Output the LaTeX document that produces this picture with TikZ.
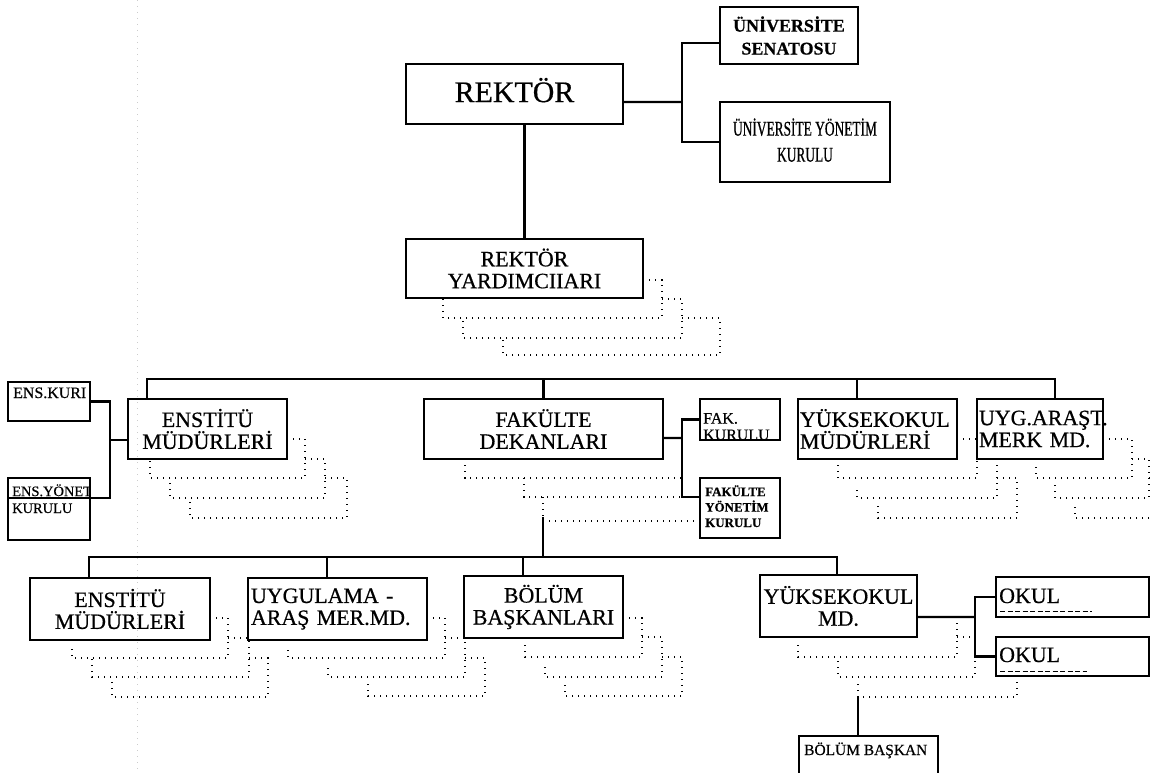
\documentclass[tikz,border=0pt]{standalone}
\usepackage{fontspec}
\setmainfont{Liberation Serif}[FakeBold=0.6]
\newfontfamily\narrowserif[FakeStretch=0.64, FakeBold=0.6]{Liberation Serif}
\newcommand\fsz[1]{\fontsize{#1}{#1}\selectfont}
\newcommand\fszl[2]{\fontsize{#1}{#2}\selectfont}
\tikzset{
  box/.style={draw, line width=2.4bp, inner sep=0pt, align=center, font=\fsz{22}},
  link/.style={line width=2.4bp},
  shade/.style={line width=1.4bp, dash pattern=on 1.4bp off 4.6bp},
  tag/.style={inner sep=0pt, anchor=base west, align=left},
}
\begin{document}
\begin{tikzpicture}[x=1bp, y=-1bp]
\useasboundingbox (0,0) rectangle (1151,773);

% faint margin guide of the page
\draw[gray!40, line width=0.8bp, dash pattern=on 1bp off 5bp] (137,0) -- (137,773);

% ---------- top level ----------
\node[box, minimum width=217bp, minimum height=60bp, font=\fsz{30}] (rektor) at (514.5,94) {\raisebox{8bp}{REKTÖR}};
\node[box, minimum width=138bp, minimum height=57bp, font=\bfseries\fszl{18}{23}] (senato) at (789,35.5) {ÜNİVERSİTE\\SENATOSU};
\node[box, minimum width=170bp, minimum height=80bp, font=\narrowserif\fszl{21}{34}] (yonetim) at (805,142) {\raisebox{4bp}{\shortstack{ÜNİVERSİTE YÖNETİM\\[9bp]KURULU}}};
\node[box, minimum width=237bp, minimum height=59bp] (yard) at (524.5,268.5) {REKTÖR\\YARDIMCIIARI};

% ---------- second level ----------
\node[box, minimum width=159bp, minimum height=60bp] (enst1) at (207.5,429) {ENSTİTÜ\\MÜDÜRLERİ};
\node[box, minimum width=239bp, minimum height=60bp] (fak) at (543.5,429) {FAKÜLTE\\DEKANLARI};
\node[box, minimum width=159bp, minimum height=60bp, align=left, text width=155bp] (yuk1) at (877.5,429) {YÜKSEKOKUL\\MÜDÜRLERİ};
\node[box, minimum width=126bp, minimum height=60bp, align=left, text width=122bp] (uyg1) at (1040,429) {UYG.ARAŞT.\\MERK MD.};

% side boards
\node[box, minimum width=82bp, minimum height=39bp] (enskur) at (49,401.5) {};
\node[box, minimum width=82bp, minimum height=62bp] (ensyon) at (49,509) {};
\node[box, minimum width=80bp, minimum height=41bp] (fakkur) at (740,419.5) {};
\node[box, minimum width=80bp, minimum height=60bp] (fakyon) at (740,508) {};
\begin{scope}
  \clip ([shift={(1.2bp,-1.2bp)}]enskur.north west) rectangle ([shift={(-1.2bp,1.2bp)}]enskur.south east);
  \node[tag, font=\fsz{16}] (enskur-t) at (13,398) {ENS.KURI};
\end{scope}
\begin{scope}
  \clip ([shift={(1.2bp,-1.2bp)}]ensyon.north west) rectangle ([shift={(-1.2bp,1.2bp)}]ensyon.south east);
  \node[tag, font=\fszl{14.5}{17}] (ensyon-t) at (12,513) {ENS.YÖNET\\KURULU};
\end{scope}
\begin{scope}
  \clip ([shift={(1.2bp,-1.2bp)}]fakkur.north west) rectangle ([shift={(-1.2bp,1.2bp)}]fakkur.south east);
  \node[tag, font=\fszl{16}{16.5}] (fakkur-t) at (703,440) {FAK.\\KURULU};
\end{scope}
\node[tag, font=\bfseries\fszl{13}{15.5}] (fakyon-t) at (705,527) {FAKÜLTE\\YÖNETİM\\KURULU};

% ---------- third level ----------
\node[box, minimum width=180bp, minimum height=62bp] (enst2) at (120,609) {ENSTİTÜ\\MÜDÜRLERİ};
\node[box, minimum width=179bp, minimum height=62bp, align=left, text width=173bp] (uygu) at (337.5,609) {UYGULAMA -\\ARAŞ MER.MD.};
\node[box, minimum width=159bp, minimum height=62bp] (bolum) at (543.5,607) {BÖLÜM\\BAŞKANLARI};
\node[box, minimum width=157bp, minimum height=62bp] (yukmd) at (838.5,606) {YÜKSEKOKUL\\MD.};
\node[box, minimum width=153bp, minimum height=40bp] (okul1) at (1072.5,597) {};
\node[box, minimum width=153bp, minimum height=39bp] (okul2) at (1072.5,656.5) {};
\node[tag, font=\fsz{22}] (okul1-t) at (999,603) {OKUL};
\node[tag, font=\fsz{22}] (okul2-t) at (999,662) {OKUL};
\draw[line width=1bp, dash pattern=on 5bp off 2.5bp] (1000,611) -- (1092,611);
\draw[line width=1bp, dash pattern=on 5bp off 2.5bp] (1000,671) -- (1087,671);

\node[box, minimum width=139bp, minimum height=54bp] (bbaskan) at (868.5,763) {};
\node[tag, font=\fsz{15.5}] (bbaskan-t) at (804,755) {BÖLÜM BAŞKAN};

% ---------- solid connectors ----------
\coordinate (rk) at (682,102);
\draw[link] ([yshift=-8bp]rektor.east) -- (rk);
\draw[link] ([yshift=-7.5bp]senato.west) -| (rk) |- (yonetim.west);
\draw[link] (rektor.south -| yard.north) -- (yard.north);

\coordinate (busL) at (147,379);
\coordinate (busR) at (1055,379);
\coordinate (busY) at (857,379);
\draw[link] (busL |- enst1.north) -- (busL) -- (busR) -- (busR |- uyg1.north);
\draw[link] (fak.north) -- (fak.north |- busL);
\draw[link] (busY) -- (busY |- yuk1.north);

\coordinate (ej) at (110,440);
\draw[link] (enskur.east) -| (ej) |- ([yshift=11bp]ensyon.west);
\draw[link] (ej) -- (ej -| enst1.west);

\coordinate (fj) at (682,438);
\draw[link] ([yshift=-9bp]fak.east) -- (fj);
\draw[link] (fakkur.west) -| (fj) |- ([yshift=11bp]fakyon.west);

\coordinate (fd) at (543,517);
\coordinate (b3L) at (89,557);
\coordinate (b3R) at (837,557);
\coordinate (b3U) at (327,557);
\coordinate (b3B) at (523,557);
\draw[link] (fd) -- (fd |- b3L);
\draw[link] (b3L |- enst2.north) -- (b3L) -- (b3R) -- (b3R |- yukmd.north);
\draw[link] (b3U) -- (b3U |- uygu.north);
\draw[link] (b3B) -- (b3B |- bolum.north);

\coordinate (yj) at (975,617);
\draw[link] ([yshift=-11bp]yukmd.east) -- (yj);
\draw[link] (okul1.west) -| (yj) |- (okul2.west);

\coordinate (bb) at (858,697);
\draw[link] (bb) -- (bb |- bbaskan.north);

% ---------- stacked copies (dotted) ----------
% rector's deputies
\draw[shade] (643,280) -- (662,280) -- (662,318) -- (443,318) -- (443,298);
\draw[shade] (662,299) -- (682,299) -- (682,338) -- (463,338) -- (463,318);
\draw[shade] (682,318) -- (720,318) -- (720,355) -- (503,355) -- (503,338);
% institute directors
\draw[shade] (287,439) -- (305,439) -- (305,478) -- (150,478) -- (150,459);
\draw[shade] (305,459) -- (325,459) -- (325,498) -- (170,498) -- (170,478);
\draw[shade] (325,478) -- (347,478) -- (347,518) -- (190,518) -- (190,498);
% deans
\draw[shade] (465,459) -- (465,478) -- (682,478);
\draw[shade] (524,478) -- (524,497) -- (682,497);
\draw[shade] (543,497) -- (543,521) -- (700,521);
% college directors
\draw[shade] (957,439) -- (977,439) -- (977,478) -- (838,478) -- (838,465);
\draw[shade] (997,459) -- (997,498) -- (857,498) -- (857,485);
\draw[shade] (997,478) -- (1017,478) -- (1017,518) -- (878,518) -- (878,505);
% research centre directors
\draw[shade] (1103,439) -- (1132,439) -- (1132,478) -- (1036,478) -- (1036,465);
\draw[shade] (1132,459) -- (1149,459) -- (1149,498) -- (1055,498) -- (1055,485);
\draw[shade] (1149,478) -- (1165,478) -- (1165,518) -- (1075,518) -- (1075,505);
% faculty level: institute directors
\draw[shade] (210,618) -- (228,618) -- (228,658) -- (72,658) -- (72,645);
\draw[shade] (228,638) -- (249,638) -- (249,677) -- (92,677) -- (92,658);
\draw[shade] (249,658) -- (268,658) -- (268,697) -- (112,697) -- (112,677);
% application and research centre
\draw[shade] (427,618) -- (445,618) -- (445,658) -- (288,658) -- (288,645);
\draw[shade] (445,638) -- (465,638) -- (465,677) -- (328,677) -- (328,663);
\draw[shade] (465,658) -- (485,658) -- (485,696) -- (368,696) -- (368,684);
% department heads
\draw[shade] (623,618) -- (642,618) -- (642,657) -- (525,657) -- (525,643);
\draw[shade] (642,637) -- (662,637) -- (662,677) -- (545,677) -- (545,663);
\draw[shade] (662,657) -- (682,657) -- (682,696) -- (565,696) -- (565,682);
% college director
\draw[shade] (957,623) -- (957,657) -- (798,657) -- (798,643);
\draw[shade] (957,637) -- (975,637) -- (975,677) -- (838,677) -- (838,660);
\draw[shade] (1017,676) -- (1017,697) -- (858,697) -- (858,683);
\end{tikzpicture}
\end{document}
